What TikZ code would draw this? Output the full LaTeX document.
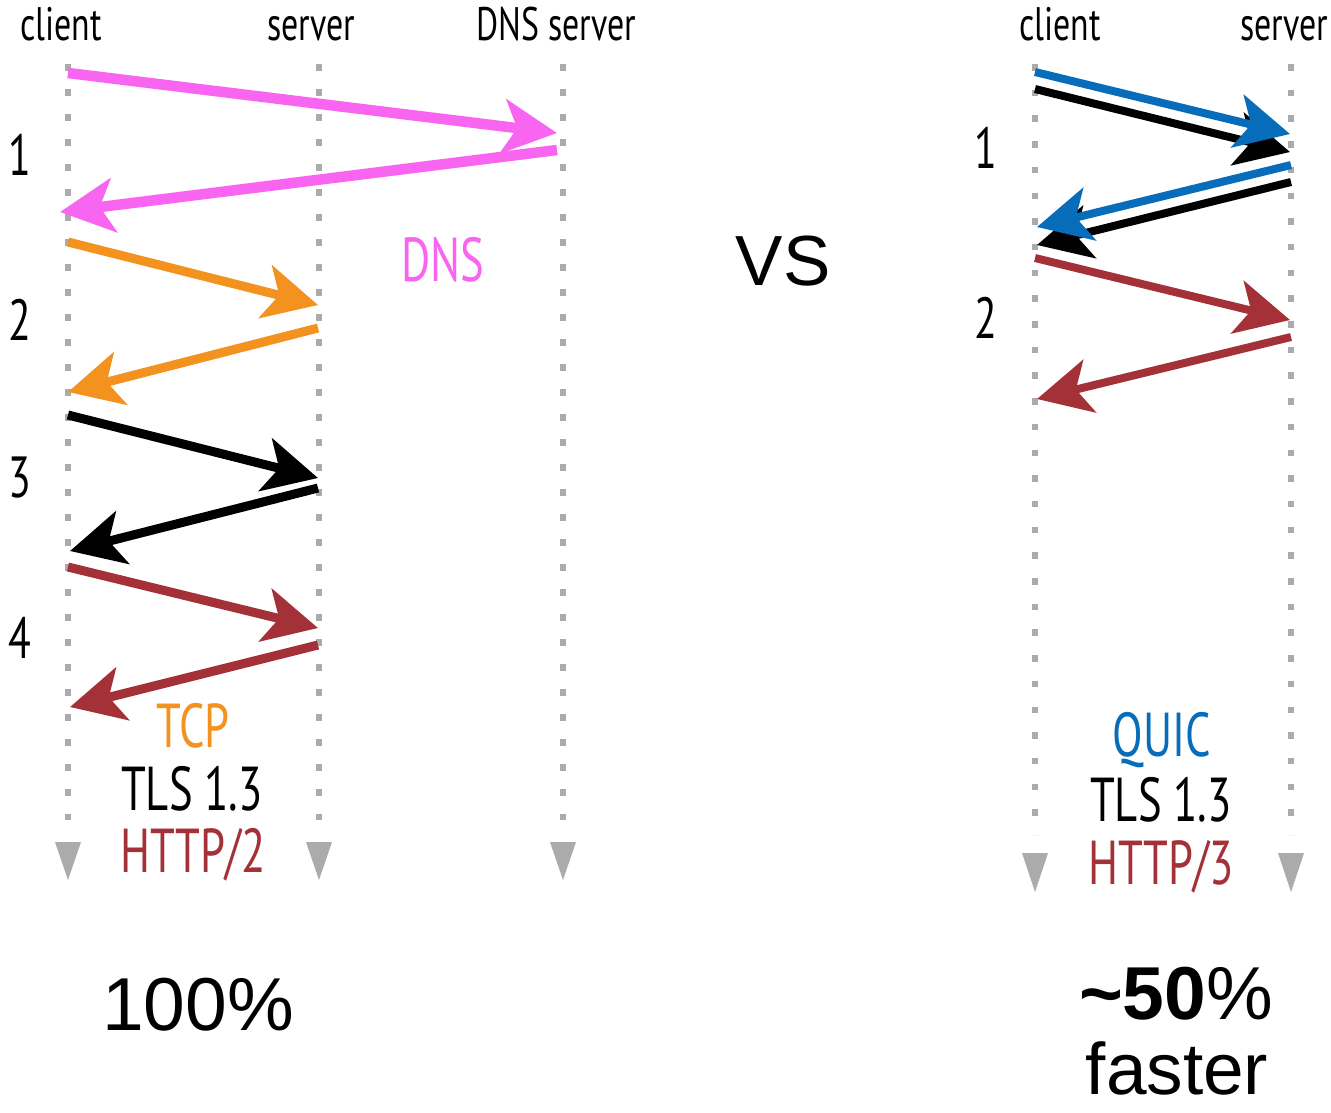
\documentclass[tikz,border=0pt]{standalone}
\usepackage{fontspec}
\setmainfont{Liberation Sans}
\newfontfamily\condfont[FakeStretch=0.72]{PT Sans}
\usetikzlibrary{arrows.meta}
\definecolor{dnspink}{HTML}{F865F0}
\definecolor{tcporange}{HTML}{F3921E}
\definecolor{httpred}{HTML}{A43138}
\definecolor{quicblue}{HTML}{076CB9}
\definecolor{lifegray}{HTML}{ABABAB}
\begin{document}
\begin{tikzpicture}[x=1pt,y=-1pt,
  lifeline/.style={draw=lifegray, line width=6.5pt, dash pattern=on 6.5pt off 18.5pt},
  lifelineR/.style={draw=lifegray, line width=6.5pt, dash pattern=on 6.5pt off 19.2pt},
  msg/.style={line width=9pt, -{Stealth[length=54pt,width=54pt,inset=14pt]}},
  hdr/.style={anchor=base, inner sep=0pt, font=\condfont\fontsize{47}{47}\selectfont},
  step num/.style={anchor=base, inner sep=0pt, font=\condfont\fontsize{58}{58}\selectfont},
  proto/.style={anchor=base, inner sep=0pt, font=\condfont\fontsize{62}{62}\selectfont},
  big/.style={anchor=base, inner sep=0pt, font=\fontsize{75}{75}\selectfont},
]
\useasboundingbox[fill=white] (0,0) rectangle (1331,1112);

% ---- lifelines, left diagram ----
\coordinate (clA) at (68,64);   \coordinate (clB) at (68,820);
\coordinate (svA) at (319,64);  \coordinate (svB) at (319,820);
\coordinate (dnA) at (563,64);  \coordinate (dnB) at (563,820);
\foreach \a/\b in {clA/clB, svA/svB, dnA/dnB}{
  \path[lifeline] (\a) -- (\b);
  \fill[lifegray] (\b) ++(-13,22) -- ++(26,0) -- ++(-13,38) -- cycle;
}

% ---- lifelines, right diagram ----
\coordinate (qclA) at (1035,64);  \coordinate (qclB) at (1035,835);
\coordinate (qsvA) at (1291,64);  \coordinate (qsvB) at (1291,835);
\foreach \a/\b in {qclA/qclB, qsvA/qsvB}{
  \path[lifelineR] (\a) -- (\b);
  \fill[lifegray] (\b) ++(-13,18) -- ++(26,0) -- ++(-13,39) -- cycle;
}

% ---- headers ----
\node[hdr] (hcl) at (61,40) {client};
\node[hdr] (hsv) at (311,40) {server};
\node[hdr] (hdn) at (556,40) {DNS server};
\node[hdr] (hqcl) at (1060,40) {client};
\node[hdr] (hqsv) at (1284,40) {server};

% ---- round-trip numbers ----
\node[step num] (n1) at (20,175) {1};
\node[step num] (n2) at (20,340) {2};
\node[step num] (n3) at (20,497) {3};
\node[step num] (n4) at (20,658) {4};
\node[step num] (q1) at (986,168) {1};
\node[step num] (q2) at (986,338) {2};

% ---- left: DNS lookup ----
\coordinate (d1s) at (68,73);   \coordinate (d1e) at (557,133);
\coordinate (d2s) at (557,150); \coordinate (d2e) at (60,212);
\draw[msg, dnspink, line width=10.5pt] (d1s) -- (d1e);
\draw[msg, dnspink, line width=10.5pt] (d2s) -- (d2e);

% ---- left: TCP handshake ----
\coordinate (t1s) at (68,242);  \coordinate (t1e) at (318,305);
\coordinate (t2s) at (318,328); \coordinate (t2e) at (68,392);
\draw[msg, tcporange] (t1s) -- (t1e);
\draw[msg, tcporange] (t2s) -- (t2e);

% ---- left: TLS 1.3 ----
\coordinate (s1s) at (68,415);  \coordinate (s1e) at (318,478);
\coordinate (s2s) at (318,488); \coordinate (s2e) at (70,551);
\draw[msg, black] (s1s) -- (s1e);
\draw[msg, black] (s2s) -- (s2e);

% ---- left: HTTP/2 request ----
\coordinate (h1s) at (68,567);  \coordinate (h1e) at (318,628);
\coordinate (h2s) at (318,645); \coordinate (h2e) at (70,707);
\draw[msg, httpred] (h1s) -- (h1e);
\draw[msg, httpred] (h2s) -- (h2e);

% ---- right: QUIC + TLS combined ----
\coordinate (k1s) at (1035,89);  \coordinate (k1e) at (1290,152);
\coordinate (k2s) at (1291,182); \coordinate (k2e) at (1037,245);
\coordinate (b1s) at (1035,72);  \coordinate (b1e) at (1290,134);
\coordinate (b2s) at (1291,165); \coordinate (b2e) at (1037,227);
\draw[msg, black, line width=8pt] (k1s) -- (k1e);
\draw[msg, black, line width=8pt] (k2s) -- (k2e);
\draw[msg, quicblue, line width=8pt] (b1s) -- (b1e);
\draw[msg, quicblue, line width=8pt] (b2s) -- (b2e);

% ---- right: HTTP/3 request ----
\coordinate (r1s) at (1035,258);  \coordinate (r1e) at (1290,320);
\coordinate (r2s) at (1291,337);  \coordinate (r2e) at (1037,399);
\draw[msg, httpred, line width=8pt] (r1s) -- (r1e);
\draw[msg, httpred, line width=8pt] (r2s) -- (r2e);

% ---- protocol labels ----
\node[proto, text=dnspink] (ldns) at (443,281) {DNS};
\node[proto, text=tcporange] (ltcp) at (193,747) {TCP};
\node[proto] (ltls) at (192,810) {TLS 1.3};
\node[proto, text=httpred] (lhttp) at (193,872) {HTTP/2};
\node[proto, text=quicblue] (lquic) at (1162,756) {QUIC};
\node[proto] (qtls) at (1161,821) {TLS 1.3};
\node[proto, text=httpred] (qhttp) at (1161,884) {HTTP/3};

% ---- comparison ----
\node[big, font=\fontsize{71}{71}\selectfont] (vs) at (783,285) {VS};
\node[big] (p100) at (198,1030) {100\%};
\node[big] (p50) at (1176,1019) {\textbf{\char"7E 50}\%};
\node[big, font=\fontsize{73}{73}\selectfont] (fast) at (1177,1094) {faster};
\end{tikzpicture}
\end{document}
